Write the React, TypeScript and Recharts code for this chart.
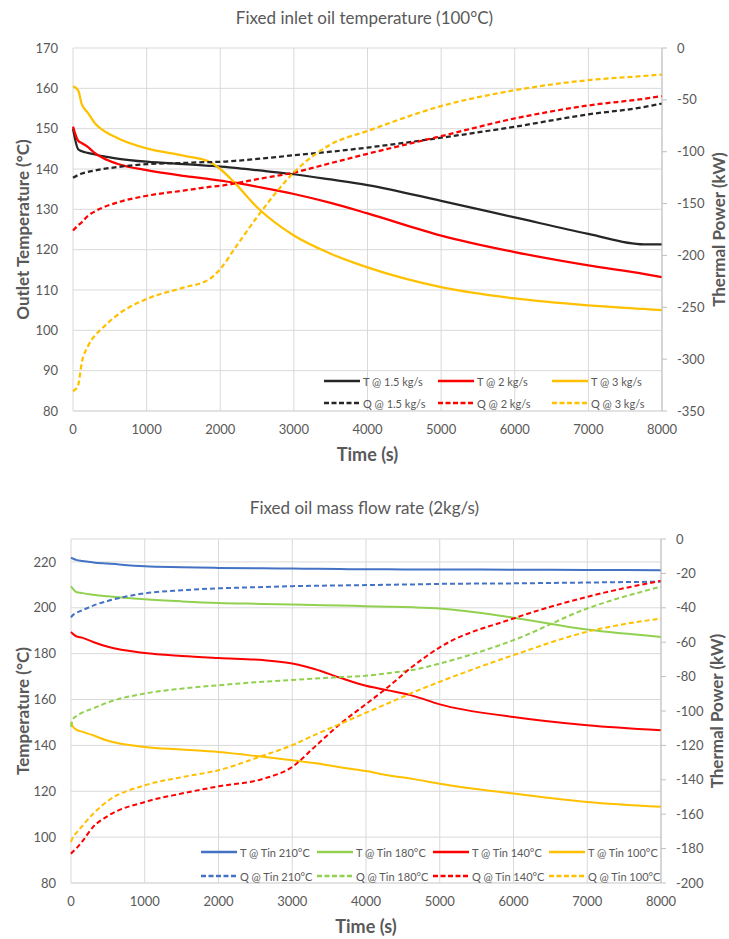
import { LineChart, Line, XAxis, YAxis, CartesianGrid, Legend, Label } from 'recharts';

// ---- top chart: fixed inlet oil temperature (100°C) ----
const TIME_TOP = [0, 70, 120, 200, 300, 400, 600, 1000, 1500, 1850, 2000, 2200, 2500, 3000, 3500, 4000, 5000, 6000, 7000, 7750, 8000];
const T_15 = [150, 144.9, 144.4, 144, 143.6, 143.2, 142.6, 141.8, 141.2, 140.8, 140.6, 140.3, 139.7, 138.7, 137.4, 136, 132.1, 128, 123.9, 121.3, 121.3];
const T_2 = [150.5, 147, 146.4, 145.5, 143.9, 142.8, 141.3, 139.7, 138.3, 137.5, 137.1, 136.6, 135.6, 133.8, 131.6, 129, 123.5, 119.4, 116.1, 114, 113.2];
const T_3 = [160.5, 159.5, 156, 154, 151.3, 149.7, 147.7, 145.1, 143.3, 141.8, 140, 136.5, 130.5, 123.5, 119, 115.6, 110.7, 107.9, 106.2, 105.3, 105];
const Q_15 = [-125, -122.5, -121, -119.5, -118, -116.8, -114.8, -112, -110.8, -110, -109.8, -108.8, -107, -103.4, -100, -96, -86.5, -75.9, -64, -57, -53.5];
const Q_2 = [-176, -171, -168, -162, -157.5, -154, -149, -142.5, -137.5, -134, -132.9, -130.5, -126.5, -120.1, -111, -102, -85, -67.9, -55.4, -49, -46.4];
const Q_3 = [-331, -325, -303, -288, -277, -270, -257.5, -242, -231, -223, -213, -193, -163, -120, -93, -80, -56, -40.7, -31, -27, -25.6];

// ---- bottom chart: fixed oil mass flow rate (2kg/s) ----
const TIME_BOT = [0, 20, 70, 150, 300, 500, 1000, 1500, 2000, 2600, 3000, 3300, 3650, 4000, 4300, 4650, 5000, 6000, 7000, 8000];
const T_210 = [221.9, 221.5, 220.9, 220.4, 219.8, 219.3, 218.1, 217.7, 217.4, 217.2, 217.1, 217, 216.9, 216.8, 216.8, 216.7, 216.7, 216.6, 216.5, 216.4];
const T_180 = [209.4, 208.5, 206.9, 206.4, 205.7, 205, 203.7, 202.8, 202.1, 201.7, 201.4, 201.2, 201, 200.7, 200.5, 200.2, 199.7, 195.7, 190.5, 187.3];
const T_140 = [189.5, 188.8, 187.6, 187, 185.1, 183, 180.3, 179, 178.1, 177.2, 175.7, 173.3, 169.5, 166, 164, 161.5, 157.9, 152.4, 148.8, 146.6];
const T_100 = [150.2, 148.5, 146.9, 146, 144.4, 142, 139.3, 138.2, 137.1, 135, 133.5, 132.3, 130.5, 128.8, 127, 125.3, 123.3, 119, 115.3, 113.2];
const Q_210 = [-45.6, -44.5, -43, -41.5, -38.7, -36, -31.6, -29.8, -28.7, -27.9, -27.4, -27.2, -27, -26.8, -26.6, -26.4, -26.1, -25.8, -25.3, -24.8];
const Q_180 = [-109.2, -105.3, -103, -101, -98.5, -95, -89.8, -87, -85, -83, -82, -81.2, -80.3, -79.5, -78, -76, -72.4, -58.8, -40.4, -27.7];
const Q_140 = [-183, -182, -180, -176, -167.4, -161, -152.9, -148, -143.8, -139.5, -132.5, -121, -107.5, -96, -86, -73.5, -63, -46.2, -33.6, -24.3];
const Q_100 = [-176.2, -174, -171, -167, -159.7, -152.3, -143.2, -138.5, -134.4, -126, -119.9, -114, -107.5, -101, -95.5, -89, -83, -67.5, -53.9, -46.2];

const TIME_TICKS = [0, 1000, 2000, 3000, 4000, 5000, 6000, 7000, 8000];
const TOP_LEFT_TICKS = [80, 90, 100, 110, 120, 130, 140, 150, 160, 170];
const TOP_RIGHT_TICKS = [-350, -300, -250, -200, -150, -100, -50, 0];
const BOT_LEFT_TICKS = [80, 100, 120, 140, 160, 180, 200, 220];
const BOT_RIGHT_TICKS = [-200, -180, -160, -140, -120, -100, -80, -60, -40, -20, 0];

const BLACK = '#262626';
const RED = '#ff0000';
const YELLOW = '#ffc000';
const BLUE = '#4472c4';
const GREEN = '#92d050';

const GRID = '#d9d9d9';
const TEXT = '#595959';
const FONT = 'Lato, "Open Sans", sans-serif';

interface Series {
  key: string;
  name: string;
  values: number[];
  color: string;
  axis: 'left' | 'right';
  dashed: boolean;
}

const TOP_SERIES: Series[] = [
  { key: 'T15', name: 'T @ 1.5 kg/s', values: T_15, color: BLACK, axis: 'left', dashed: false },
  { key: 'T2', name: 'T @ 2 kg/s', values: T_2, color: RED, axis: 'left', dashed: false },
  { key: 'T3', name: 'T @ 3 kg/s', values: T_3, color: YELLOW, axis: 'left', dashed: false },
  { key: 'Q15', name: 'Q @ 1.5 kg/s', values: Q_15, color: BLACK, axis: 'right', dashed: true },
  { key: 'Q2', name: 'Q @ 2 kg/s', values: Q_2, color: RED, axis: 'right', dashed: true },
  { key: 'Q3', name: 'Q @ 3 kg/s', values: Q_3, color: YELLOW, axis: 'right', dashed: true },
];

const BOT_SERIES: Series[] = [
  { key: 'T210', name: 'T @ Tin 210°C', values: T_210, color: BLUE, axis: 'left', dashed: false },
  { key: 'T180', name: 'T @ Tin 180°C', values: T_180, color: GREEN, axis: 'left', dashed: false },
  { key: 'T140', name: 'T @ Tin 140°C', values: T_140, color: RED, axis: 'left', dashed: false },
  { key: 'T100', name: 'T @ Tin 100°C', values: T_100, color: YELLOW, axis: 'left', dashed: false },
  { key: 'Q210', name: 'Q @ Tin 210°C', values: Q_210, color: BLUE, axis: 'right', dashed: true },
  { key: 'Q180', name: 'Q @ Tin 180°C', values: Q_180, color: GREEN, axis: 'right', dashed: true },
  { key: 'Q140', name: 'Q @ Tin 140°C', values: Q_140, color: RED, axis: 'right', dashed: true },
  { key: 'Q100', name: 'Q @ Tin 100°C', values: Q_100, color: YELLOW, axis: 'right', dashed: true },
];

function buildRows(time: number[], series: Series[]) {
  return time.map((t, i) => {
    const row: Record<string, number> = { t };
    series.forEach((s) => {
      row[s.key] = s.values[i];
    });
    return row;
  });
}

const tickStyle = { fill: TEXT, fontSize: 13, fontFamily: FONT };

function vLabel(text: string, x: number) {
  return ({ viewBox }: any) => {
    const cy = viewBox.y + viewBox.height / 2;
    return (
      <text
        x={x}
        y={cy}
        transform={`rotate(-90 ${x} ${cy})`}
        textAnchor="middle"
        dominantBaseline="central"
        fill={TEXT}
        fontFamily={FONT}
        fontWeight="bold"
        fontSize={17}
      >
        {text}
      </text>
    );
  };
}

function timeLabel(dy: number) {
  return ({ viewBox }: any) => (
    <text
      x={viewBox.x + viewBox.width / 2}
      y={viewBox.y + dy}
      textAnchor="middle"
      dominantBaseline="central"
      fill={TEXT}
      fontFamily={FONT}
      fontWeight="bold"
      fontSize={18}
    >
      Time (s)
    </text>
  );
}

function legendContent(series: Series[], cols: number, colWidth: number, rowGap: number) {
  return () => (
    <div
      style={{
        display: 'grid',
        gridTemplateColumns: `repeat(${cols}, ${colWidth}px)`,
        rowGap,
        fontFamily: FONT,
        fontSize: 11,
        color: TEXT,
        whiteSpace: 'nowrap',
      }}
    >
      {series.map((s) => (
        <div key={s.key} style={{ display: 'flex', alignItems: 'center', height: 14 }}>
          <svg width={36} height={6} style={{ marginRight: 3 }}>
            <line
              x1={0}
              y1={3}
              x2={36}
              y2={3}
              stroke={s.color}
              strokeWidth={2.5}
              strokeDasharray={s.dashed ? '5 2.5' : undefined}
            />
          </svg>
          <span>{s.name}</span>
        </div>
      ))}
    </div>
  );
}

interface PanelProps {
  title: string;
  top: number;
  height: number;
  titleY: number;
  plotTop: number;
  leftWidth: number;
  rightWidth: number;
  xAxisHeight: number;
  series: Series[];
  time: number[];
  leftDomain: [number, number];
  leftTicks: number[];
  rightDomain: [number, number];
  rightTicks: number[];
  leftLabel: string;
  rightLabelX: number;
  strokeWidth: number;
  legendPos: { left: number; top: number };
  legendCols: number;
  legendColWidth: number;
  legendRowGap: number;
}

function Panel(p: PanelProps) {
  const rows = buildRows(p.time, p.series);
  return (
    <div style={{ position: 'absolute', left: 0, top: p.top, width: 729, height: p.height }}>
      <div
        style={{
          position: 'absolute',
          left: 0,
          width: 729,
          top: p.titleY - 12,
          height: 24,
          lineHeight: '24px',
          textAlign: 'center',
          fontFamily: FONT,
          fontSize: 17,
          color: TEXT,
        }}
      >
        {p.title}
      </div>
      <LineChart width={729} height={p.height} data={rows} margin={{ top: p.plotTop, right: 0, bottom: 0, left: 0 }}>
        <CartesianGrid yAxisId="left" stroke={GRID} strokeWidth={1} />
        <XAxis
          dataKey="t"
          type="number"
          domain={[0, 8000]}
          ticks={TIME_TICKS}
          height={p.xAxisHeight}
          tickLine={false}
          tickSize={6}
          tickMargin={8}
          axisLine={{ stroke: GRID }}
          tick={tickStyle}
        >
          <Label content={timeLabel(43)} />
        </XAxis>
        <YAxis
          yAxisId="left"
          orientation="left"
          width={p.leftWidth}
          domain={p.leftDomain}
          ticks={p.leftTicks}
          allowDataOverflow
          tickLine={false}
          axisLine={false}
          tickSize={6}
          tickMargin={9}
          tick={tickStyle}
        >
          <Label content={vLabel(p.leftLabel, 22)} />
        </YAxis>
        <YAxis
          yAxisId="right"
          orientation="right"
          width={p.rightWidth}
          domain={p.rightDomain}
          ticks={p.rightTicks}
          allowDataOverflow
          tickLine={{ stroke: '#bfbfbf' }}
          axisLine={{ stroke: '#bfbfbf' }}
          tickSize={5}
          tickMargin={10}
          tick={tickStyle}
        >
          <Label content={vLabel('Thermal Power (kW)', p.rightLabelX)} />
        </YAxis>
        {p.series.map((s) => (
          <Line
            key={s.key}
            yAxisId={s.axis}
            dataKey={s.key}
            name={s.name}
            type="monotone"
            stroke={s.color}
            strokeWidth={p.strokeWidth}
            strokeDasharray={s.dashed ? '5 3' : undefined}
            dot={false}
            activeDot={false}
            isAnimationActive={false}
          />
        ))}
        <Legend
          layout="horizontal"
          verticalAlign="middle"
          align="center"
          wrapperStyle={{ left: p.legendPos.left, top: p.legendPos.top, width: 'auto', height: 'auto' }}
          content={legendContent(p.series, p.legendCols, p.legendColWidth, p.legendRowGap)}
        />
      </LineChart>
    </div>
  );
}

export default function App() {
  return (
    <div style={{ position: 'absolute', left: 0, top: 0, width: 729, height: 939, background: '#fff' }}>
      <Panel
        title="Fixed inlet oil temperature (100°C)"
        top={0}
        height={470}
        titleY={18}
        plotTop={48}
        leftWidth={73}
        rightWidth={67}
        xAxisHeight={59}
        series={TOP_SERIES}
        time={TIME_TOP}
        leftDomain={[80, 170]}
        leftTicks={TOP_LEFT_TICKS}
        rightDomain={[-350, 0]}
        rightTicks={TOP_RIGHT_TICKS}
        leftLabel="Outlet Temperature (°C)"
        rightLabelX={718}
        strokeWidth={2.25}
        legendPos={{ left: 324, top: 374 }}
        legendCols={3}
        legendColWidth={114}
        legendRowGap={8}
      />
      <Panel
        title="Fixed oil mass flow rate (2kg/s)"
        top={490}
        height={449}
        titleY={18}
        plotTop={49}
        leftWidth={71}
        rightWidth={68}
        xAxisHeight={56}
        series={BOT_SERIES}
        time={TIME_BOT}
        leftDomain={[80, 230]}
        leftTicks={BOT_LEFT_TICKS}
        rightDomain={[-200, 0]}
        rightTicks={BOT_RIGHT_TICKS}
        leftLabel="Temperature (°C)"
        rightLabelX={716}
        strokeWidth={2}
        legendPos={{ left: 201, top: 355 }}
        legendCols={4}
        legendColWidth={116}
        legendRowGap={10}
      />
    </div>
  );
}
